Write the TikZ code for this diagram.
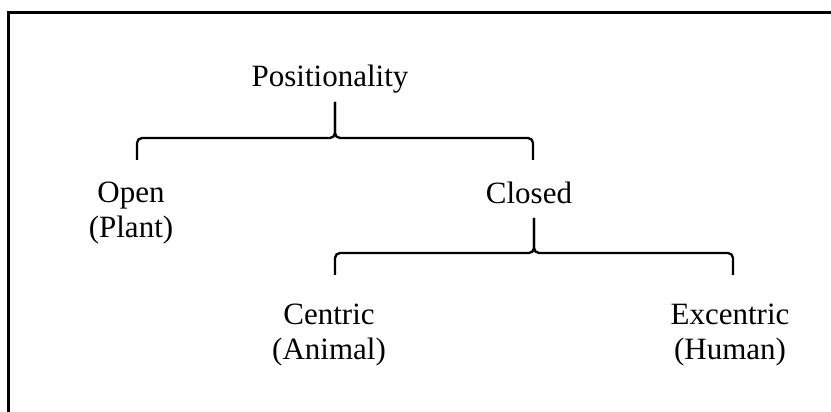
\documentclass[tikz,border=0pt]{standalone}
\usepackage{fontspec}
\setmainfont{Liberation Serif}
\usetikzlibrary{positioning}
\tikzset{
  label/.style={inner sep=0pt, anchor=north, align=center, font=\fontsize{31}{35}\selectfont},
  bracket/.style={line width=2.3pt, rounded corners=5pt},
  frame/.style={line width=2.7pt}
}

\begin{document}
\begin{tikzpicture}[x=1pt, y=1pt]
    \useasboundingbox (0,0) rectangle (831,412);
    \clip (0,0) rectangle (831,412);
    \draw[frame] (8.5,-10) |- (850,399.5);
    % labels
    \node[label] (pos) at (330,347) {Positionality};
    \node[label] (open) at (131,230) {Open\\(Plant)};
    \node[label] (closed) at (529,230) {Closed};
    \node[label] (centric) at (329,108) {Centric\\(Animal)};
    \node[label] (excentric) at (730,108) {Excentric\\(Human)};
    % first split
    \coordinate (pos tip) at (335,310);
    \coordinate (pos bar) at (335,274);
    \coordinate (open leg) at (137,252);
    \coordinate (closed leg) at (533,252);
    \draw[bracket] (open leg) |- (pos bar) -- (pos tip);
    \draw[bracket] (closed leg) |- (pos bar) -- (pos tip);
    % second split
    \coordinate (closed tip) at (534,194);
    \coordinate (closed bar) at (534,159);
    \coordinate (centric leg) at (335,137);
    \coordinate (excentric leg) at (733,137);
    \draw[bracket] (centric leg) |- (closed bar) -- (closed tip);
    \draw[bracket] (excentric leg) |- (closed bar) -- (closed tip);
\end{tikzpicture}
\end{document}
